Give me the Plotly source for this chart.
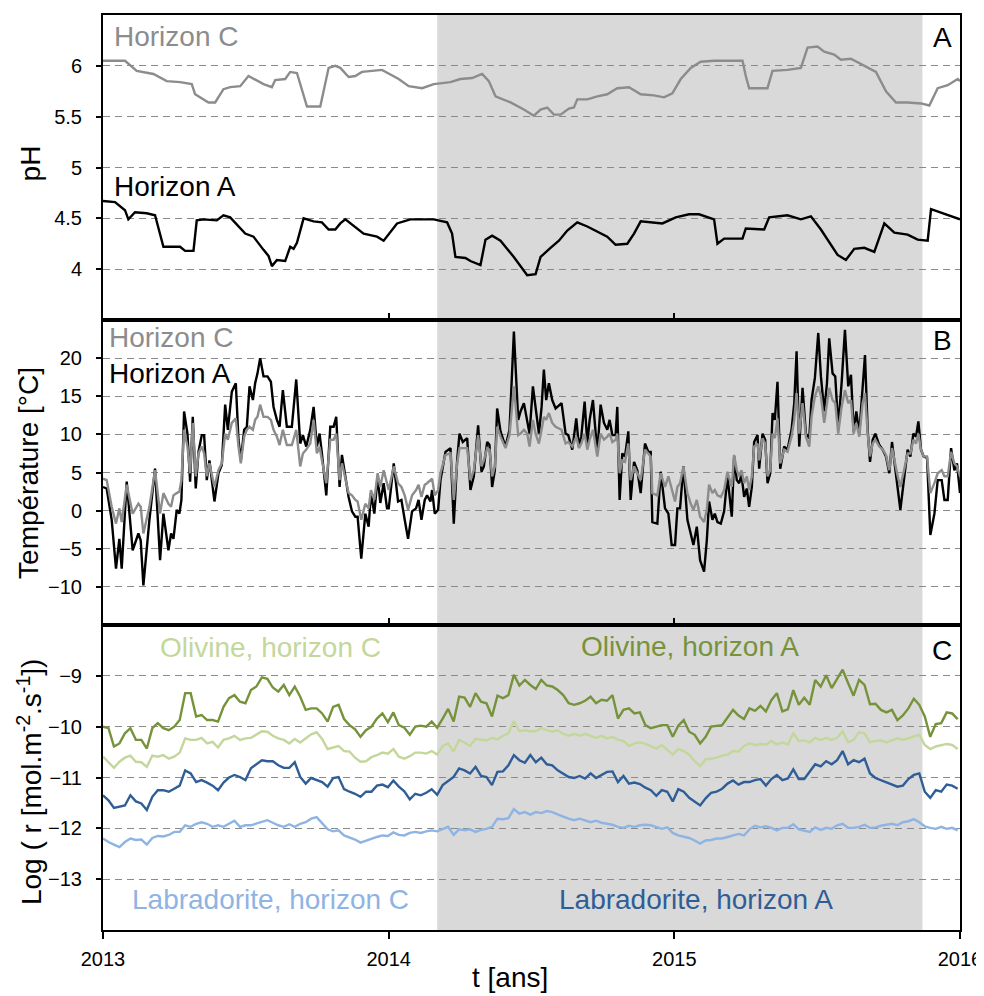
import pandas as pd
import plotly.graph_objects as go
from plotly.subplots import make_subplots

START = pd.Timestamp("2013-01-01")

# --- Panel A: pH, read as (days since 2013-01-01, value) break points ---
ph_c_days = [0, 28.1, 43.1, 64.4, 81.4, 98.5, 113.4, 117.7, 134.8, 143.3, 153.9, 162.5, 175.3, 185.9,
             205.1, 215.8, 220.0, 232.8, 239.2, 247.8, 260.6, 277.6, 288.3, 296.8, 303.2, 313.9, 322.4,
             330.9, 356.5, 377.8, 390.6, 407.7, 422.6, 443.9, 456.7, 471.6, 484.4, 493.0, 501.5, 507.9,
             520.7, 537.7, 550.5, 559.1, 567.6, 576.1, 584.6, 595.3, 601.7, 606.0, 618.8, 631.6, 644.3,
             657.1, 672.1, 687.0, 704.0, 716.8, 727.5, 738.2, 751.0, 763.7, 780.8, 797.9, 817.1, 821.3,
             825.6, 836.2, 849.0, 855.4, 874.6, 891.7, 900.2, 913.0, 921.5, 934.3, 942.8, 955.6, 972.7,
             987.6, 1000.4, 1013.2, 1028.1, 1045.2, 1055.8, 1066.5, 1079.3, 1092.1, 1095]
ph_c = [6.05, 6.05, 5.95, 5.92, 5.85, 5.84, 5.82, 5.72, 5.64, 5.64, 5.77, 5.79, 5.80, 5.90,
        5.82, 5.79, 5.86, 5.87, 5.94, 5.93, 5.60, 5.60, 5.98, 6.00, 5.98, 5.89, 5.90,
        5.94, 5.96, 5.87, 5.80, 5.78, 5.82, 5.84, 5.87, 5.88, 5.92, 5.85, 5.70, 5.68,
        5.64, 5.57, 5.51, 5.57, 5.59, 5.52, 5.52, 5.58, 5.59, 5.67, 5.67, 5.70, 5.72,
        5.78, 5.79, 5.72, 5.71, 5.69, 5.73, 5.87, 5.98, 6.04, 6.05, 6.05, 6.05, 5.90,
        5.78, 5.78, 5.78, 5.95, 5.96, 5.98, 6.18, 6.19, 6.14, 6.11, 6.06, 6.07, 6.00,
        5.94, 5.75, 5.64, 5.64, 5.63, 5.61, 5.78, 5.81, 5.87, 5.85]

ph_a_days = [0, 15.4, 28.1, 32.4, 40.9, 55.9, 66.5, 77.2, 98.5, 104.9, 115.6, 119.8, 128.4, 145.4,
             153.9, 162.5, 181.7, 192.3, 205.1, 211.5, 215.8, 222.2, 232.8, 239.2, 243.5, 247.8, 256.3,
             269.1, 279.7, 288.3, 296.8, 303.2, 309.6, 320.2, 333.0, 350.1, 358.6, 375.7, 392.7, 422.6,
             439.7, 446.0, 450.3, 463.1, 469.5, 482.3, 488.7, 497.2, 507.9, 524.9, 542.0, 552.7, 559.1,
             571.8, 582.5, 593.2, 606.0, 618.8, 644.3, 655.0, 669.9, 678.5, 687.0, 714.7, 731.8, 748.8,
             761.6, 780.8, 785.1, 793.6, 817.1, 821.3, 844.8, 851.2, 874.6, 891.7, 904.5, 917.3, 930.0,
             938.6, 949.2, 959.9, 972.7, 985.5, 998.3, 1011.1, 1028.1, 1040.9, 1053.7, 1058.0, 1095]
ph_a = [4.67, 4.66, 4.58, 4.49, 4.56, 4.55, 4.53, 4.22, 4.22, 4.18, 4.18, 4.48, 4.49, 4.48,
        4.53, 4.51, 4.35, 4.32, 4.19, 4.13, 4.03, 4.09, 4.08, 4.22, 4.20, 4.26, 4.50,
        4.47, 4.46, 4.39, 4.39, 4.45, 4.49, 4.43, 4.35, 4.32, 4.28, 4.45, 4.49, 4.49,
        4.46, 4.35, 4.12, 4.11, 4.08, 4.04, 4.29, 4.33, 4.28, 4.12, 3.94, 3.95, 4.12,
        4.21, 4.28, 4.38, 4.46, 4.42, 4.32, 4.24, 4.25, 4.35, 4.47, 4.45, 4.51, 4.54,
        4.54, 4.49, 4.25, 4.30, 4.30, 4.40, 4.39, 4.51, 4.53, 4.49, 4.52, 4.39, 4.24,
        4.14, 4.09, 4.20, 4.21, 4.17, 4.45, 4.36, 4.34, 4.29, 4.28, 4.59, 4.49]

# --- Panel B: soil temperature (days since 2013-01-01) ---
temp_days = [
    # 2013
    0, 4.7, 11.1, 16.6, 20.9, 23.9, 30.3, 37.9, 45.2, 48.2, 51.6, 59.3, 66.5, 72.9, 77.2, 83.6, 87.0,
    90.0, 94.2, 97.6, 100.2, 103.6, 107.9, 111.3, 114.7, 118.5, 122.0, 126.2, 129.2, 132.6, 136.0,
    142.4, 147.5, 151.8, 156.1, 159.5, 164.6, 169.7, 173.1, 176.1, 180.4, 183.8, 187.2, 191.5, 194.4,
    197.4, 200.8, 205.1, 210.2, 214.5, 217.9, 222.2, 225.6, 229.8, 234.9, 241.3, 246.9, 252.0, 255.4,
    259.7, 264.8, 269.1, 273.3, 276.7, 279.7, 285.3, 290.4, 294.6, 298.0, 302.3, 305.3, 309.6, 313.8,
    318.1, 322.4, 325.3, 330.0, 335.2, 339.4, 342.4, 346.7, 350.9, 354.3, 358.6, 362.9,
    # 2014
    365.1, 371.5, 377.0, 381.3, 385.5, 389.8, 394.9, 400.0, 403.2, 406.9, 411.1, 414.1, 418.4, 420.5,
    423.9, 428.2, 431.2, 437.6, 444.0, 448.2, 452.5, 455.5, 459.7, 465.3, 469.5, 473.8, 479.3, 483.6,
    486.6, 490.9, 493.8, 497.2, 500.7, 503.6, 507.9, 514.3, 519.4, 525.0, 530.5, 533.5, 537.8, 542.0,
    545.0, 549.3, 552.7, 557.0, 560.4, 563.3, 566.3, 569.7, 574.0, 578.3, 585.9, 591.1, 594.5, 599.6,
    604.7, 608.1, 611.1, 615.4, 618.8, 621.8, 626.0, 631.6, 635.8, 640.1, 644.4, 647.3, 650.8, 655.0,
    657.1, 660.1, 663.5, 667.0, 671.2, 674.2, 678.5, 682.7, 687.0, 692.5, 696.8, 699.8, 701.9, 708.3,
    712.6, 718.1, 722.4, 726.6, 730.9,
    # 2015
    733.9, 737.3, 741.6, 746.7, 751.0, 754.4, 758.7, 762.9, 768.0, 771.5, 774.4, 778.7, 781.7, 785.1,
    789.4, 793.6, 797.9, 801.3, 803.4, 806.4, 809.8, 812.8, 815.8, 819.2, 822.6, 825.6, 829.0, 832.0,
    836.3, 838.4, 842.7, 846.1, 849.1, 852.5, 855.5, 858.4, 861.8, 865.3, 870.4, 874.6, 879.8, 883.2,
    886.2, 889.6, 893.8, 898.1, 902.4, 905.3, 909.6, 913.9, 917.3, 921.5, 925.0, 927.9, 932.2, 935.6,
    939.4, 943.7, 948.0, 952.2, 955.7, 959.1, 962.5, 966.3, 970.6, 973.6, 977.0, 980.0, 983.4, 986.8,
    991.9, 996.2, 1000.4, 1004.7, 1008.1, 1011.9, 1015.4, 1018.8, 1023.9, 1028.1, 1031.6, 1035.4,
    1038.8, 1041.8, 1045.2, 1048.6, 1052.9, 1057.1, 1062.3, 1066.5, 1071.6, 1075.1, 1079.3, 1083.6,
    1087.8, 1091.2, 1095.0]
temp_a = [
    3.1, 2.9, -1.2, -7.6, -3.7, -7.6, 3.8, -5.2, -3.0, -3.9, -9.8, -1.2, 5.5, -6.5, -0.4, -5.2, -3.0,
    -3.7, 0.1, -0.4, 1.4, 13.0, 10.1, 3.8, 12.3, 2.9, 7.7, 9.9, 9.9, 4.0, 6.6,
    1.2, 4.9, 6.0, 13.9, 10.6, 15.6, 16.7, 9.3, 6.6, 10.6, 11.0, 16.3, 14.5, 16.7,
    18.0, 20.0, 17.6, 17.6, 16.9, 13.6, 11.9, 11.0, 15.8, 11.0, 11.0, 17.2, 8.8, 9.9,
    8.4, 10.6, 13.6, 8.4, 10.1, 7.5, 2.0, 11.0, 11.0, 12.3, 3.1, 7.3, 4.5, 1.8,
    -0.1, -0.8, -0.8, -6.3, -0.4, -2.1, 2.3, -0.4, 4.5, 1.0, 3.6, 0.3,
    0.3, 6.2, 1.2, 1.4, -1.2, -3.7, -0.1, 0.3, 1.4, -1.2, 1.4, 2.0, 1.2, 2.7,
    -0.4, 0.1, 4.0, 7.7, 8.2, -1.7, 6.6, 10.1, 9.0, 9.5, 2.7, 4.5, 11.2, 5.1,
    5.8, 9.0, 8.6, 3.1, 5.3, 13.4, 10.4, 8.4, 10.6, 23.5, 11.9, 13.0, 14.1, 11.9,
    10.1, 16.3, 13.6, 10.1, 13.6, 18.5, 14.5, 16.7, 14.5, 13.4, 14.1, 10.1, 9.9, 8.0,
    12.1, 8.4, 9.7, 14.3, 8.8, 11.9, 14.5, 7.5, 13.9, 11.5, 10.6, 11.9, 9.9, 9.9,
    13.6, 1.4, 7.5, 7.1, 10.4, 1.4, 6.4, 5.3, 2.3, 8.8, 7.7, 7.7, -1.5, -1.7,
    5.1, 0.3, -0.4, -4.5, -4.5,
    0.3, 0.3, 5.8, -1.2, -3.0, -4.5, -2.1, -6.5, -8.0, -3.9, 1.2, -1.2, -0.4, -1.5,
    -1.7, -0.1, 4.5, 0.9, -0.8, 7.1, 4.0, 3.6, 4.7, 1.8, 2.9, 0.5, 3.1, 9.0,
    9.9, 5.5, 10.1, 9.3, 3.6, 4.9, 12.8, 11.9, 16.9, 5.5, 8.4, 8.0, 10.6, 14.1,
    20.9, 8.4, 16.1, 10.1, 9.5, 14.5, 17.4, 23.3, 17.6, 13.0, 16.7, 22.6, 18.0, 17.6,
    11.0, 16.7, 23.7, 16.3, 17.8, 10.4, 13.0, 10.1, 16.7, 20.4, 10.6, 6.4, 9.3, 10.1,
    8.6, 8.0, 7.1, 4.9, 9.0, 5.8, 3.1, 0.1, 4.5, 8.0, 7.1, 10.1,
    9.7, 11.7, 8.0, 7.1, 6.9, -3.2, -0.4, 4.0, 4.0, 1.4, 1.4, 8.2,
    5.3, 6.2, 2.3]
temp_c = [
    4.2, 4.0, 0.5, -1.7, 0.3, -1.5, 3.4, -0.4, 0.9, 0.5, -3.0, 0.5, 5.3, -0.4, 2.3, 0.9, 0.5,
    2.0, 2.3, 2.5, 4.0, 10.6, 8.4, 4.9, 11.5, 4.5, 7.5, 8.4, 7.5, 4.5, 6.2,
    3.1, 5.3, 6.2, 10.1, 9.3, 11.5, 12.1, 8.4, 6.2, 9.7, 10.6, 11.0, 10.6, 11.9,
    12.3, 13.9, 12.3, 12.3, 11.9, 10.6, 9.7, 8.6, 10.6, 8.6, 8.6, 10.6, 5.8, 7.5,
    8.0, 8.8, 11.9, 7.5, 8.4, 6.6, 3.6, 9.3, 9.3, 10.1, 4.0, 6.2, 4.0, 2.3,
    2.0, 1.4, 1.2, -1.2, 0.9, 0.3, 2.7, 1.4, 4.9, 3.1, 5.3, 3.6,
    2.7, 5.8, 3.6, 3.1, 2.0, 0.1, 2.0, 2.7, 3.4, 1.8, 3.4, 3.6, 4.0, 4.2,
    2.0, 2.7, 4.9, 7.3, 7.5, 1.4, 6.2, 8.2, 8.2, 8.2, 4.0, 5.3, 9.9, 5.8,
    6.6, 8.2, 8.0, 4.5, 5.8, 11.0, 9.7, 8.2, 9.9, 16.3, 9.9, 10.1, 10.6, 10.1,
    8.4, 11.9, 10.1, 8.8, 10.6, 12.3, 11.9, 12.8, 11.5, 11.0, 10.6, 8.8, 9.0, 8.4,
    9.7, 8.2, 8.8, 10.1, 8.0, 9.3, 10.6, 7.1, 10.1, 9.3, 9.7, 10.1, 9.0, 9.3,
    10.1, 4.9, 6.6, 6.4, 8.8, 4.0, 5.8, 4.9, 4.0, 8.0, 7.5, 7.1, 2.3, 2.0,
    4.9, 3.1, 4.5, 2.7, 1.2,
    3.1, 3.6, 5.8, 2.3, 0.9, 0.1, 1.4, -0.8, -1.5, 0.1, 3.4, 2.3, 2.7, 2.0,
    1.8, 2.7, 5.1, 4.0, 3.1, 7.3, 5.3, 4.5, 5.3, 3.6, 4.5, 2.7, 4.5, 8.4,
    8.8, 6.6, 9.5, 8.8, 4.5, 5.3, 10.1, 9.5, 12.1, 6.2, 8.0, 7.7, 9.7, 11.9,
    15.4, 10.1, 14.1, 9.7, 8.4, 12.3, 15.0, 16.3, 15.0, 11.5, 14.1, 16.1, 14.5, 14.1,
    10.1, 13.6, 15.8, 14.1, 14.5, 10.1, 11.5, 9.7, 14.1, 15.4, 10.1, 7.1, 8.8, 9.3,
    8.4, 8.0, 7.3, 5.3, 8.2, 6.2, 4.5, 3.1, 5.5, 7.5, 7.5, 9.3,
    8.8, 10.1, 8.0, 7.1, 7.1, 2.3, 3.6, 4.9, 5.3, 4.5, 4.5, 7.7,
    6.2, 5.8, 4.5]

# --- Panel C: log dissolution rates, one value per week from 2013-01-01 ---
olivine_a = [
    -10.00, -10.03, -10.39, -10.33, -10.13, -10.03, -10.26, -10.26, -10.43, -10.03, -9.93, -10.03,
    -10.07, -10.00, -9.87, -9.34, -9.34, -9.80, -9.77, -9.87, -9.87, -9.90, -9.61, -9.44, -9.38,
    -9.51, -9.54, -9.28, -9.21, -9.03, -9.06, -9.23, -9.31, -9.18, -9.38, -9.21, -9.41, -9.67,
    -9.64, -9.64, -9.74, -9.90, -9.61, -9.57, -9.85, -9.97, -10.05, -10.20, -10.07, -10.00, -9.84,
    -9.74, -9.91,
    -9.72, -9.97, -10.02, -10.16, -10.00, -9.98, -10.00, -9.90, -10.02, -9.84, -9.65, -9.90, -9.41,
    -9.43, -9.61, -9.34, -9.51, -9.54, -9.80, -9.39, -9.44, -9.38, -8.98, -9.19, -9.08, -9.18,
    -9.26, -9.08, -9.19, -9.21, -9.28, -9.38, -9.54, -9.57, -9.54, -9.49, -9.41, -9.54, -9.47,
    -9.49, -9.38, -9.84, -9.67, -9.64, -9.74, -9.72, -9.97, -10.03, -10.00, -9.97, -9.97, -10.20,
    -9.98, -9.87, -10.10, -10.16, -10.33, -10.20, -10.00, -9.98, -9.97, -9.82, -9.67, -9.78, -9.85,
    -9.64, -9.69, -9.59, -9.70, -9.48, -9.34, -9.70, -9.66, -9.28, -9.57, -9.43, -9.57, -9.08,
    -9.21, -8.99, -9.24, -9.06, -8.88, -9.14, -9.39, -9.08, -9.18, -9.56, -9.55, -9.67, -9.72,
    -9.67, -9.87, -9.78, -9.64, -9.45, -9.57, -9.80, -10.20, -9.95, -9.93, -9.72, -9.74, -9.85]
olivine_c = [
    -10.59, -10.69, -10.81, -10.69, -10.61, -10.57, -10.69, -10.70, -10.79, -10.57, -10.59, -10.56,
    -10.63, -10.59, -10.51, -10.23, -10.26, -10.26, -10.22, -10.33, -10.30, -10.41, -10.26, -10.23,
    -10.18, -10.26, -10.23, -10.22, -10.15, -10.09, -10.10, -10.18, -10.23, -10.26, -10.33, -10.24,
    -10.31, -10.23, -10.15, -10.11, -10.24, -10.44, -10.41, -10.38, -10.48, -10.49, -10.61, -10.69,
    -10.68, -10.60, -10.56, -10.51, -10.53,
    -10.44, -10.59, -10.63, -10.58, -10.51, -10.51, -10.53, -10.48, -10.55, -10.38, -10.33, -10.49,
    -10.26, -10.31, -10.38, -10.24, -10.25, -10.27, -10.22, -10.25, -10.18, -10.13, -9.89, -10.09,
    -10.07, -10.09, -10.09, -10.03, -10.07, -10.10, -10.07, -10.14, -10.18, -10.14, -10.18, -10.14,
    -10.18, -10.22, -10.18, -10.23, -10.20, -10.26, -10.28, -10.38, -10.33, -10.31, -10.34, -10.39,
    -10.43, -10.36, -10.46, -10.55,
    -10.44, -10.48, -10.55, -10.68, -10.78, -10.64, -10.63, -10.61, -10.57, -10.55, -10.48, -10.49,
    -10.38, -10.33, -10.36, -10.34, -10.35, -10.28, -10.35, -10.31, -10.35, -10.13, -10.28, -10.27,
    -10.31, -10.22, -10.26, -10.22, -10.26, -10.22, -10.09, -10.31, -10.26, -10.11, -10.13, -10.31,
    -10.28, -10.27, -10.31, -10.27, -10.23, -10.26, -10.23, -10.19, -10.16, -10.36, -10.44, -10.39,
    -10.36, -10.34, -10.36, -10.44]
labradorite_a = [
    -11.35, -11.45, -11.60, -11.58, -11.55, -11.35, -11.47, -11.51, -11.64, -11.38, -11.25, -11.25,
    -11.28, -11.22, -11.16, -10.86, -10.92, -11.09, -11.05, -11.10, -11.16, -11.25, -11.10, -11.00,
    -10.95, -10.99, -11.05, -10.82, -10.74, -10.66, -10.68, -10.68, -10.76, -10.81, -10.81, -10.70,
    -10.99, -11.12, -11.01, -11.05, -11.09, -11.18, -11.01, -10.99, -11.23, -11.28, -11.32, -11.38,
    -11.28, -11.28, -11.16, -11.14, -11.19,
    -11.06, -11.18, -11.27, -11.43, -11.32, -11.35, -11.30, -11.23, -11.34, -11.15, -11.07, -10.99,
    -10.82, -10.86, -10.92, -10.79, -10.97, -10.99, -11.15, -10.89, -10.88, -10.76, -10.56, -10.66,
    -10.71, -10.56, -10.70, -10.61, -10.74, -10.76, -10.86, -10.93, -10.99, -11.01, -10.97, -11.02,
    -10.92, -11.01, -10.95, -10.89, -10.88, -11.09, -10.97, -11.12, -11.10, -11.13, -11.20, -11.25,
    -11.36, -11.25, -11.28, -11.47,
    -11.23, -11.28, -11.40, -11.47, -11.55, -11.41, -11.30, -11.28, -11.22, -11.12, -11.06, -11.14,
    -11.09, -11.09, -11.05, -11.03, -11.16, -11.03, -10.95, -11.05, -11.02, -10.84, -11.03, -11.03,
    -10.89, -10.74, -10.78, -10.68, -10.74, -10.66, -10.48, -10.74, -10.66, -10.70, -10.63, -10.92,
    -11.01, -11.05, -11.10, -11.14, -11.18, -11.16, -11.03, -10.95, -10.92, -11.28, -11.40, -11.25,
    -11.28, -11.14, -11.16, -11.22]
labradorite_c = [
    -12.20, -12.27, -12.32, -12.37, -12.27, -12.20, -12.23, -12.22, -12.32, -12.19, -12.15, -12.16,
    -12.13, -12.07, -12.07, -11.94, -11.97, -11.91, -11.88, -11.91, -11.97, -11.94, -11.97, -11.91,
    -11.85, -11.97, -11.94, -11.94, -11.91, -11.88, -11.84, -11.89, -11.94, -11.97, -11.92, -11.97,
    -11.91, -11.88, -11.81, -11.78, -11.91, -12.02, -12.06, -12.04, -12.14, -12.18, -12.22, -12.28,
    -12.24, -12.20, -12.17, -12.14, -12.15,
    -12.08, -12.13, -12.14, -12.09, -12.07, -12.09, -12.06, -12.04, -12.06, -12.01, -11.97, -12.13,
    -12.02, -12.04, -12.02, -12.07, -12.03, -12.01, -11.97, -11.81, -11.82, -11.80, -11.62, -11.71,
    -11.68, -11.73, -11.68, -11.70, -11.66, -11.68, -11.73, -11.77, -11.81, -11.84, -11.81, -11.85,
    -11.88, -11.85, -11.89, -11.91, -11.93, -11.97, -11.99, -11.95, -11.97, -11.94, -11.93, -11.94,
    -11.97, -12.01, -11.98, -12.09,
    -12.14, -12.17, -12.19, -12.24, -12.30, -12.24, -12.23, -12.20, -12.20, -12.17, -12.14, -12.11,
    -12.14, -12.02, -11.95, -11.98, -11.96, -11.99, -12.04, -11.99, -11.99, -11.92, -12.02, -12.04,
    -12.07, -11.98, -12.03, -11.99, -12.01, -11.94, -11.91, -11.99, -11.99, -11.97, -11.93, -11.99,
    -11.98, -11.95, -11.93, -11.91, -11.94, -11.88, -11.86, -11.82, -11.88, -11.96, -11.99, -12.01,
    -11.97, -12.01, -11.99, -12.04]

year_labels = ["2013", "2014", "2015", "2016"]
ph_ticks = [4, 4.5, 5, 5.5, 6]
temp_ticks = [-10, -5, 0, 5, 10, 15, 20]
rate_ticks = [-13, -12, -11, -10, -9]

# grey band = period shown in the report
SHADE_START, SHADE_END = "2014-03-04", "2015-11-14"

GREY = "#8c8c8c"
OLIV_A, OLIV_C = "#76933c", "#c4d79b"
LAB_A, LAB_C = "#2f5e97", "#8eb4e3"
FONT = "Liberation Sans, Arial, sans-serif"


def as_dates(days):
    return START + pd.to_timedelta(days, unit="D")


weeks = pd.date_range(START, periods=len(olivine_a), freq="7D")

fig = make_subplots(rows=3, cols=1, shared_xaxes=True, vertical_spacing=0)

line = dict(width=2.4)
fig.add_trace(go.Scatter(x=as_dates(ph_c_days), y=ph_c, mode="lines",
                         line=dict(line, color=GREY)), row=1, col=1)
fig.add_trace(go.Scatter(x=as_dates(ph_a_days), y=ph_a, mode="lines",
                         line=dict(line, color="black")), row=1, col=1)

fig.add_trace(go.Scatter(x=as_dates(temp_days), y=temp_a, mode="lines",
                         line=dict(line, color="black")), row=2, col=1)
fig.add_trace(go.Scatter(x=as_dates(temp_days), y=temp_c, mode="lines",
                         line=dict(line, color=GREY)), row=2, col=1)

for values, color in [(olivine_a, OLIV_A), (olivine_c, OLIV_C),
                      (labradorite_a, LAB_A), (labradorite_c, LAB_C)]:
    fig.add_trace(go.Scatter(x=weeks, y=values, mode="lines",
                             line=dict(line, color=color)), row=3, col=1)

fig.add_vrect(x0=SHADE_START, x1=SHADE_END, fillcolor="#d9d9d9", line_width=0,
              layer="below", row="all", col=1)

year_dates = [f"{y}-01-01" for y in year_labels]
for r in (1, 2, 3):
    fig.update_xaxes(range=[year_dates[0], year_dates[-1]], tickvals=year_dates,
                     ticktext=year_labels, showgrid=False, zeroline=False, automargin=False,
                     showline=True, linecolor="black", linewidth=2, mirror=True,
                     ticks="outside" if r == 3 else "inside", ticklen=7, tickwidth=2,
                     tickcolor="black", tickfont=dict(size=20), ticklabelstandoff=3,
                     row=r, col=1)

axis_style = dict(showgrid=True, gridcolor="#8a8a8a", gridwidth=1.4, griddash="7px,5px",
                  zeroline=False, showline=True, linecolor="black", linewidth=2, mirror=True,
                  ticks="outside", ticklen=5, tickwidth=2, tickcolor="black", automargin=False,
                  tickfont=dict(size=20), ticklabelstandoff=10)
fig.update_yaxes(range=[3.5, 6.5], tickvals=ph_ticks, row=1, col=1, **axis_style)
fig.update_yaxes(range=[-15, 25], tickvals=temp_ticks, row=2, col=1, **axis_style)
fig.update_yaxes(range=[-14, -8], tickvals=rate_ticks, row=3, col=1, **axis_style)


def label(text, x, y, color="black", xanchor="left", angle=0):
    fig.add_annotation(text=text, x=x, y=y, xref="paper", yref="paper", showarrow=False,
                       xanchor=xanchor, yanchor="middle", textangle=angle,
                       font=dict(size=28, color=color))


label("Horizon C", 0.010, 0.976, GREY)
label("Horizon A", 0.010, 0.813)
label("A", 0.979, 0.975, xanchor="center")
label("Horizon C", 0.005, 0.647, GREY)
label("Horizon A", 0.005, 0.608)
label("B", 0.979, 0.644, xanchor="center")
label("Olivine, horizon C", 0.195, 0.309, OLIV_C, xanchor="center")
label("Olivine, horizon A", 0.685, 0.310, OLIV_A, xanchor="center")
label("C", 0.979, 0.305, xanchor="center")
label("Labradorite, horizon C", 0.195, 0.033, LAB_C, xanchor="center")
label("Labradorite, horizon A", 0.692, 0.033, LAB_A, xanchor="center")

label("pH", -0.085, 0.838, xanchor="center", angle=-90)
label("Température [°C]", -0.087, 0.5, xanchor="center", angle=-90)
label("Log ( r [mol.m<sup>-2</sup>.s<sup>-1</sup>])", -0.086, 0.162, xanchor="center", angle=-90)
label("t [ans]", 0.475, -0.052, xanchor="center")

# the page body adds an 8 px offset, so the canvas is 8 px smaller than the window
fig.update_layout(
    width=976, height=988,
    margin=dict(l=95, r=24, t=7, b=66),
    plot_bgcolor="white", paper_bgcolor="white",
    font=dict(family=FONT, color="black"),
    showlegend=False,
)

fig.write_html("out.html")
